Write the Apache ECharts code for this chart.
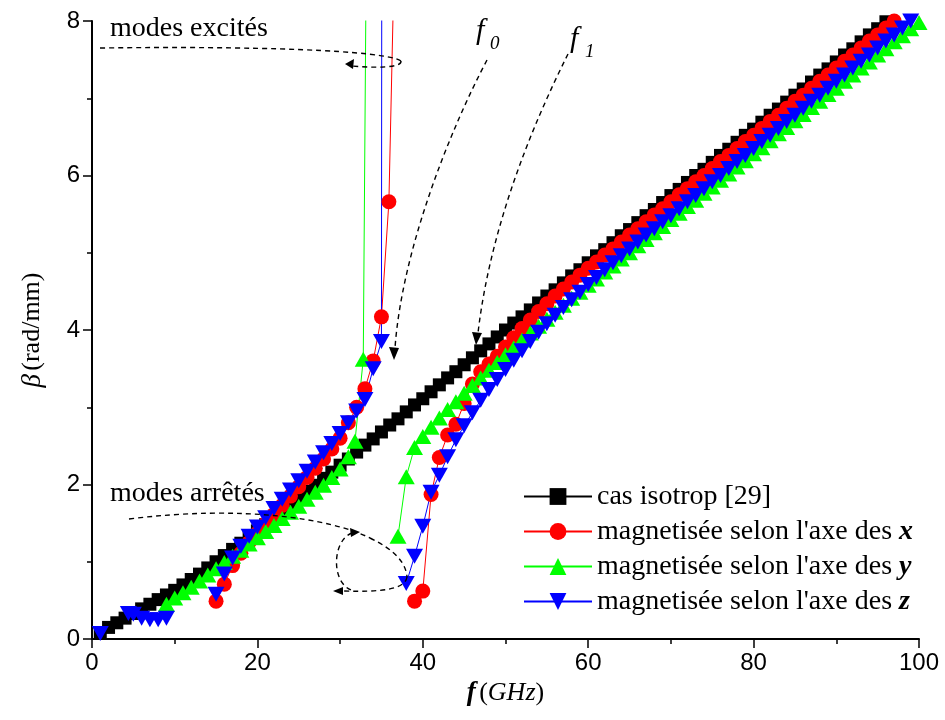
<!DOCTYPE html>
<html>
<head>
<meta charset="utf-8">
<script src="https://cdn.jsdelivr.net/npm/echarts@6/dist/echarts.min.js"></script>
<style>html,body{margin:0;padding:0;background:#fff}#c{width:945px;height:720px}</style>
</head>
<body>
<div id="c"></div>
<script>
// ---------- data ----------
const xTicks = [0, 20, 40, 60, 80, 100];
const yTicks = [0, 2, 4, 6, 8];

const names = ["cas isotrop [29]", "magnetisée selon l'axe des x", "magnetisée selon l'axe des y", "magnetisée selon l'axe des z"];

// isotropic case (black squares)
const isoF = [1,2,3,4,5,6,7,8,9,10,11,12,13,14,15,16,17,18,19,20,21,22,23,24,25,26,27,28,29,30,31,32,33,34,35,36,37,38,39,40,41,42,43,44,45,46,47,48,49,50,51,52,53,54,55,56,57,58,59,60,61,62,63,64,65,66,67,68,69,70,71,72,73,74,75,76,77,78,79,80,81,82,83,84,85,86,87,88,89,90,91,92,93,94,95,96];
const isoB = [0.08,0.15,0.21,0.27,0.33,0.39,0.45,0.51,0.57,0.63,0.70,0.77,0.84,0.92,1.00,1.08,1.16,1.24,1.32,1.40,1.48,1.57,1.65,1.74,1.82,1.91,1.99,2.08,2.16,2.25,2.33,2.42,2.51,2.59,2.68,2.77,2.85,2.94,3.03,3.11,3.20,3.29,3.38,3.46,3.55,3.64,3.73,3.82,3.91,4.00,4.09,4.17,4.26,4.35,4.44,4.52,4.61,4.70,4.78,4.87,4.96,5.04,5.13,5.22,5.30,5.39,5.48,5.56,5.65,5.74,5.82,5.91,6.00,6.08,6.17,6.26,6.34,6.43,6.52,6.60,6.69,6.78,6.86,6.95,7.04,7.12,7.21,7.30,7.38,7.47,7.56,7.64,7.73,7.82,7.90,7.99];

// magnetised along x (red circles)
const xLowF = [15,16,17,18,19,20,21,22,23,24,25,26,27,28,29,30,31,32,33,34,35,35.9,36.8];
const xLowB = [0.49,0.71,0.95,1.11,1.25,1.37,1.49,1.61,1.73,1.85,1.97,2.09,2.21,2.33,2.46,2.60,2.80,3.00,3.24,3.60,4.17,5.66,10];
const xUpF = [39,40,41,42,43,44,45,46,47,48,49,50,51,52,53,54,55,56,57,58,59,60,61,62,63,64,65,66,67,68,69,70,71,72,73,74,75,76,77,78,79,80,81,82,83,84,85,86,87,88,89,90,91,92,93,94,95,96,97];
const xUpB = [0.49,0.62,1.87,2.35,2.64,2.78,3.05,3.30,3.46,3.56,3.66,3.78,3.90,4.02,4.13,4.24,4.34,4.44,4.53,4.62,4.71,4.80,4.88,4.97,5.05,5.14,5.23,5.31,5.40,5.49,5.57,5.66,5.75,5.83,5.92,6.00,6.09,6.18,6.26,6.35,6.44,6.52,6.61,6.70,6.78,6.87,6.96,7.04,7.13,7.22,7.30,7.39,7.48,7.56,7.65,7.74,7.82,7.91,8.00];

// magnetised along y (green triangles)
const yLowF = [9,10,11,12,13,14,15,16,17,18,19,20,21,22,23,24,25,26,27,28,29,30,31,31.8,32.8,33.24];
const yLowB = [0.45,0.53,0.60,0.67,0.75,0.83,0.91,0.99,1.07,1.15,1.23,1.31,1.39,1.47,1.56,1.64,1.72,1.81,1.90,1.99,2.09,2.20,2.36,2.56,3.62,10];
const yUpF = [37,38,39,40,41,42,43,44,45,46,47,48,49,50,51,52,53,54,55,56,57,58,59,60,61,62,63,64,65,66,67,68,69,70,71,72,73,74,75,76,77,78,79,80,81,82,83,84,85,86,87,88,89,90,91,92,93,94,95,96,97,98,99,100];
const yUpB = [1.33,2.10,2.48,2.62,2.74,2.86,2.97,3.07,3.18,3.28,3.38,3.48,3.58,3.68,3.77,3.87,3.96,4.05,4.14,4.23,4.32,4.41,4.49,4.58,4.66,4.75,4.83,4.92,5.00,5.09,5.17,5.26,5.34,5.43,5.51,5.60,5.68,5.77,5.85,5.94,6.02,6.11,6.19,6.28,6.36,6.45,6.54,6.62,6.71,6.79,6.88,6.96,7.05,7.13,7.22,7.30,7.39,7.47,7.56,7.64,7.73,7.81,7.90,7.98];

// magnetised along z (blue down-triangles)
const zA_F = [1,4.4,5,6,7,8,9];
const zA_B = [0.07,0.33,0.32,0.27,0.25,0.25,0.27];
const zLowF = [15,16,17,18,19,20,21,22,23,24,25,26,27,28,29,30,31,32,33,34,35,35.05];
const zLowB = [0.58,0.84,1.05,1.20,1.33,1.45,1.57,1.69,1.81,1.93,2.05,2.17,2.29,2.41,2.53,2.66,2.80,2.95,3.10,3.50,3.85,10];
const zUpF = [38,39,40,41,42,43,44,45,46,47,48,49,50,51,52,53,54,55,56,57,58,59,60,61,62,63,64,65,66,67,68,69,70,71,72,73,74,75,76,77,78,79,80,81,82,83,84,85,86,87,88,89,90,91,92,93,94,95,96,97,98,99];
const zUpB = [0.72,1.07,1.46,1.90,2.12,2.36,2.58,2.76,2.93,3.09,3.23,3.36,3.49,3.61,3.73,3.85,3.97,4.08,4.19,4.29,4.39,4.49,4.59,4.68,4.78,4.87,4.96,5.05,5.14,5.23,5.31,5.40,5.48,5.57,5.66,5.74,5.83,5.92,6.00,6.09,6.18,6.26,6.35,6.44,6.52,6.61,6.70,6.78,6.87,6.96,7.04,7.13,7.22,7.30,7.39,7.48,7.56,7.65,7.74,7.82,7.91,8.00];

// ---------- chart ----------
const zip = (a, b) => a.map((v, i) => [v, b[i]]);
const SERIF = '"Liberation Serif", "Times New Roman", serif';
const SANS = '"Liberation Sans Narrow", "Arial Narrow", "Liberation Sans", Arial, sans-serif';

function mk(name, f, b, color, symbol, size, rotate) {
  return {
    type: 'line', name: name, data: zip(f, b),
    symbol: symbol, symbolSize: size, symbolRotate: rotate || 0,
    showSymbol: true, clip: true, animation: false,
    lineStyle: { color: color, width: 1 },
    itemStyle: { color: color, borderWidth: 0 },
    emphasis: { disabled: true }
  };
}

const TRI = [17, 15];
const series = [
  mk(names[0], isoF, isoB, '#000000', 'rect', 13),
  mk(names[1], xLowF, xLowB, '#ff0000', 'circle', 15),
  mk(names[1], xUpF, xUpB, '#ff0000', 'circle', 15),
  mk(names[2], yLowF, yLowB, '#00ff00', 'triangle', TRI),
  mk(names[2], yUpF, yUpB, '#00ff00', 'triangle', TRI),
  mk(names[3], zA_F, zA_B, '#0000ff', 'triangle', TRI, 180),
  mk(names[3], zLowF, zLowB, '#0000ff', 'triangle', TRI, 180),
  mk(names[3], zUpF, zUpB, '#0000ff', 'triangle', TRI, 180)
];

const dash = { stroke: '#000', lineWidth: 1.4, lineDash: [5, 4], fill: 'none' };
function curve(x1, y1, c1x, c1y, c2x, c2y, x2, y2) {
  return { type: 'bezierCurve', silent: true, z: 100,
    shape: { x1: x1, y1: y1, cpx1: c1x, cpy1: c1y, cpx2: c2x, cpy2: c2y, x2: x2, y2: y2 }, style: dash };
}
function arrow(pts) {
  return { type: 'polygon', silent: true, z: 100, shape: { points: pts }, style: { fill: '#000' } };
}
function txt(left, top, text, size, style) {
  return { type: 'text', left: left, top: top, silent: true, z: 100,
    style: { text: text, fontFamily: SERIF, fontSize: size, fontStyle: style || 'normal', fill: '#000' } };
}

const chart = echarts.init(document.getElementById('c'), null, { renderer: 'canvas' });
chart.setOption({
  animation: false,
  backgroundColor: '#ffffff',
  grid: { left: 92, top: 21, width: 827, height: 618, outerBoundsMode: 'none', containLabel: false },
  xAxis: {
    type: 'value', min: xTicks[0], max: xTicks[xTicks.length - 1], interval: xTicks[1] - xTicks[0],
    name: '{f|f} {n|(}{g|GHz}{n|)}', nameLocation: 'middle', nameGap: 40,
    nameTextStyle: { rich: {
      f: { fontFamily: SERIF, fontSize: 27, fontStyle: 'italic', fontWeight: 'bold', color: '#000' },
      n: { fontFamily: SERIF, fontSize: 26, color: '#000' },
      g: { fontFamily: SERIF, fontSize: 26, fontStyle: 'italic', color: '#000' } } },
    axisLine: { show: true, onZero: false, lineStyle: { color: '#000', width: 2 } },
    axisTick: { show: true, inside: false, length: 9, lineStyle: { color: '#000', width: 1.5 } },
    minorTick: { show: true, splitNumber: 2, length: 5, lineStyle: { color: '#000', width: 1.5 } },
    splitLine: { show: false }, minorSplitLine: { show: false },
    axisLabel: { show: true, margin: 12, fontFamily: SANS, fontSize: 24, color: '#000' }
  },
  yAxis: {
    type: 'value', min: yTicks[0], max: yTicks[yTicks.length - 1], interval: yTicks[1] - yTicks[0],
    name: '{b|β} {n|(rad/mm)}', nameLocation: 'middle', nameGap: 46, nameRotate: 90,
    nameTextStyle: { rich: {
      b: { fontFamily: SERIF, fontSize: 27, fontStyle: 'italic', color: '#000' },
      n: { fontFamily: SERIF, fontSize: 26, color: '#000' } } },
    axisLine: { show: true, onZero: false, lineStyle: { color: '#000', width: 2 } },
    axisTick: { show: true, inside: false, length: 9, lineStyle: { color: '#000', width: 1.5 } },
    minorTick: { show: true, splitNumber: 2, length: 5, lineStyle: { color: '#000', width: 1.5 } },
    splitLine: { show: false }, minorSplitLine: { show: false },
    axisLabel: { show: true, margin: 12, fontFamily: SANS, fontSize: 24, color: '#000' }
  },
  legend: {
    show: true, orient: 'vertical', left: 518, top: 474,
    itemWidth: 68, itemHeight: 21, itemGap: 0, selectedMode: false,
    data: names,
    formatter: function (n) {
      const last = n.slice(-1);
      if (n.indexOf('axe des') >= 0) return n.slice(0, -1) + '{b|' + last + '}';
      return n;
    },
    textStyle: { fontFamily: SERIF, fontSize: 28, color: '#000', lineHeight: 35,
      rich: { b: { fontFamily: SERIF, fontSize: 28, fontStyle: 'italic', fontWeight: 'bold', color: '#000', lineHeight: 35 } } }
  },
  series: series,
  graphic: [
    // modes excités
    txt(110, 15, 'modes excités', 28),
    curve(100, 48, 250, 46, 385, 50, 401, 61),
    curve(401, 61, 402, 68, 375, 68, 352, 66),
    arrow([[345, 64], [354, 59], [353, 69]]),
    // f0
    txt(476, 16, 'f', 30, 'italic'),
    txt(490, 34, '0', 19, 'italic'),
    curve(487, 60, 450, 130, 402, 250, 395, 348),
    arrow([[394, 360], [389, 347], [399, 348]]),
    // f1
    txt(570, 24, 'f', 30, 'italic'),
    txt(585, 42, '1', 19, 'italic'),
    curve(568, 54, 530, 130, 490, 230, 478, 333),
    arrow([[476, 345], [472, 332], [482, 333]]),
    // modes arrêtés
    txt(110, 480, 'modes arrêtés', 28),
    curve(129, 519, 240, 505, 330, 518, 370, 538),
    curve(370, 538, 395, 550, 406, 563, 407, 577),
    curve(407, 577, 405, 590, 380, 592, 343, 591),
    arrow([[333, 591], [343, 587], [343, 595]]),
    arrow([[360, 532], [350, 528], [351, 537]]),
    curve(352, 533, 332, 540, 330, 585, 354, 591)
  ]
});
</script>
</body>
</html>
